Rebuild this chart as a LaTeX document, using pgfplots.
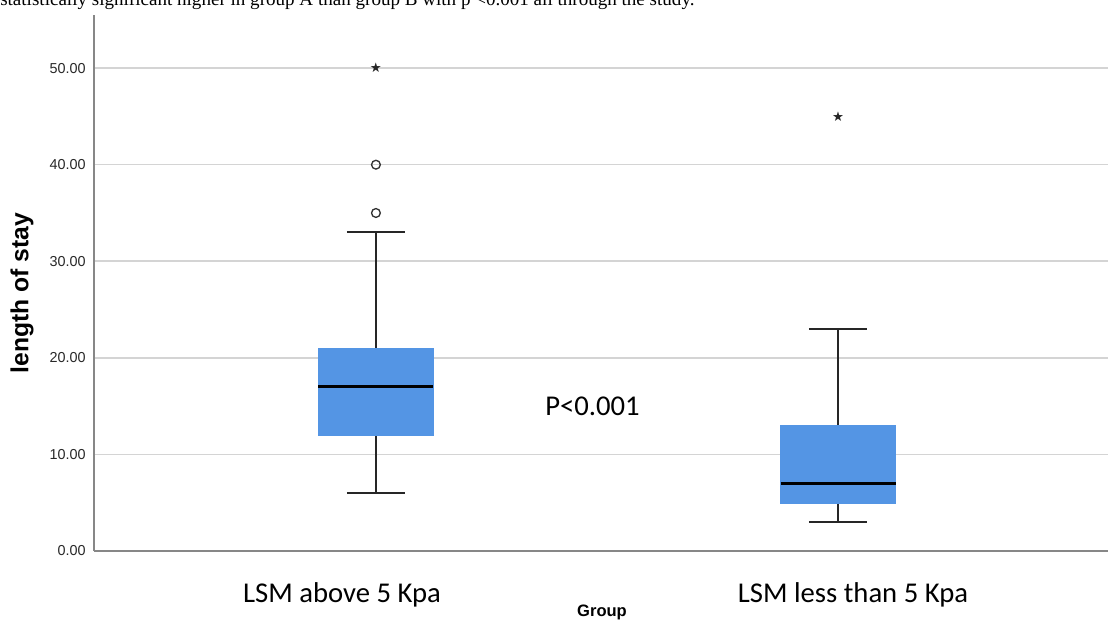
\documentclass[border=0pt]{standalone}
\usepackage{fontspec}
\setmainfont{Liberation Sans}
\newfontfamily\carlito{Carlito}
\newfontfamily\tnr{Liberation Serif}
\newfontfamily\dejavu{DejaVu Sans}
\usepackage{pgfplots}
\pgfplotsset{compat=1.18}
\definecolor{boxblue}{RGB}{84,149,228}
\definecolor{gridgrey}{RGB}{212,212,212}
\definecolor{axisgrey}{RGB}{135,135,135}
\definecolor{ticktext}{RGB}{40,40,40}

\begin{document}
\begin{tikzpicture}[x=0.75pt,y=0.75pt]
\path[use as bounding box, clip] (0,0) rectangle (1108,621);
\node[anchor=base west, inner sep=0pt] at (0,615) {\tnr\fontsize{14.3}{16}\selectfont statistically significant higher in group A than group B with p <0.001 all through the study.};
\begin{axis}[
  at={(70.5pt,52.5pt)}, anchor=south west,
  scale only axis, width=760.5pt, height=402pt,
  xmin=0.39, xmax=2.584, ymin=0, ymax=55.5,
  axis x line=bottom, axis y line=left,
  axis line style={-, draw=axisgrey, line width=1.1pt},
  xtick=\empty,
  ytick={0,10,20,30,40,50}, yticklabels={0.00,10.00,20.00,30.00,40.00,50.00},
  major tick length=0pt,
  yticklabel style={font=\fontsize{10.8}{12}\selectfont, text=ticktext, anchor=east, inner sep=0pt, xshift=-6pt},
  ymajorgrids, grid style={gridgrey, line width=1.2pt},
  whisk/.style={draw=black!85, line width=1.4pt},
  medstyle/.style={draw=black, line width=2.4pt},
  boxstyle/.style={fill=boxblue, draw=boxblue, line width=0.3pt},
]
% Group 1: LSM above 5 Kpa (position 1): whiskers 6 / 33, quartiles 12 / 21, median 17
\addplot[whisk] coordinates {(1,21) (1,33)};
\addplot[whisk] coordinates {(0.937,33) (1.063,33)};
\addplot[whisk] coordinates {(1,12) (1,6)};
\addplot[whisk] coordinates {(0.937,6) (1.063,6)};
\addplot[boxstyle] coordinates {(0.8755,12) (1.1245,12) (1.1245,21) (0.8755,21)} -- cycle;
\addplot[medstyle] coordinates {(0.8755,17) (1.1245,17)};
% Group 2: LSM less than 5 Kpa (position 2): whiskers 3 / 23, quartiles 5 / 13, median 7
\addplot[whisk] coordinates {(2,13) (2,23)};
\addplot[whisk] coordinates {(1.937,23) (2.063,23)};
\addplot[whisk] coordinates {(2,5) (2,3)};
\addplot[whisk] coordinates {(1.937,3) (2.063,3)};
\addplot[boxstyle] coordinates {(1.8755,5) (2.1245,5) (2.1245,13) (1.8755,13)} -- cycle;
\addplot[medstyle] coordinates {(1.8755,7) (2.1245,7)};
% outliers
\addplot[only marks, mark=o, mark size=3.3pt, mark options={draw=black!80, fill=white, line width=1pt}] coordinates {(1,35) (1,40)};
\addplot[only marks, mark=text, text mark as node=true, text mark={\dejavu\fontsize{10}{10}\selectfont ★}, text mark style={anchor=center, inner sep=0pt, text=black!85}] coordinates {(1,50) (2,45)};
\end{axis}
\node[anchor=base, inner sep=0pt, font=\carlito\fontsize{21.5}{24}\selectfont] at (342,18) {LSM above 5 Kpa};
\node[anchor=base, inner sep=0pt, font=\carlito\fontsize{21.5}{24}\selectfont] at (853,18) {LSM less than 5 Kpa};
\node[anchor=base west, inner sep=0pt, font=\carlito\fontsize{21.5}{24}\selectfont] at (545,205) {P<0.001};
\node[anchor=base, inner sep=0pt, font=\bfseries\fontsize{12.4}{14}\selectfont] at (602,4) {Group};
\node[rotate=90, inner sep=0pt, font=\bfseries\fontsize{18.5}{20}\selectfont] at (22,328) {length of stay};
\end{tikzpicture}
\end{document}
